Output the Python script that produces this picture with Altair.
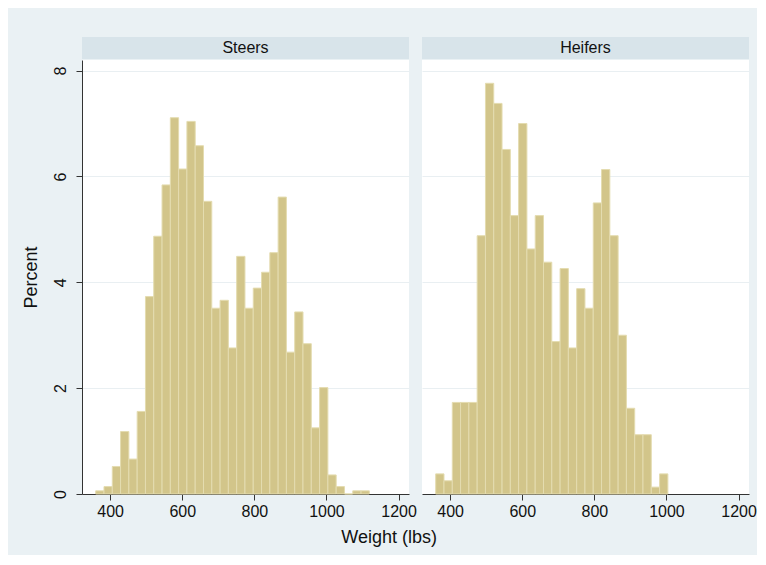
import altair as alt
import pandas as pd

# Histogram bins (lbs): start and width
bin_start = 360
bin_width = 23

steers_pct = [0.06, 0.14, 0.52, 1.18, 0.66, 1.56, 3.73, 4.87, 5.84, 7.11, 6.14,
              7.04, 6.58, 5.53, 3.51, 3.66, 2.76, 4.49, 3.51, 3.89, 4.19, 4.56,
              5.61, 2.68, 3.44, 2.84, 1.25, 2.01, 0.36, 0.14, 0.0, 0.06, 0.06]
heifers_pct = [0.38, 0.25, 1.73, 1.73, 1.73, 4.88, 7.76, 7.38, 6.51, 5.26, 7.00,
               4.63, 5.26, 4.38, 2.88, 4.26, 2.76, 3.88, 3.51, 5.50, 6.13, 4.88,
               3.00, 1.62, 1.12, 1.12, 0.13, 0.38]
panels = ["Steers", "Heifers"]
x_ticks = [400, 600, 800, 1000, 1200]
y_ticks = [0, 2, 4, 6, 8]

FONT = "Liberation Sans"
BG = "#eaf1f4"
HEAD = "#d8e4ea"
GRID = "#e9eff2"
BAR = "#d2c58a"
BAR_EDGE = "#e4dcb0"
W, H = 327, 434


def frame(values):
    return pd.DataFrame({
        "lo": [bin_start + i * bin_width for i in range(len(values))],
        "hi": [bin_start + (i + 1) * bin_width for i in range(len(values))],
        "pct": values,
    })


def panel(name, values, show_y):
    xs = alt.Scale(domain=[322, 1229], nice=False, zero=False)
    ys = alt.Scale(domain=[0, 8.2], nice=False)
    xaxis = alt.Axis(values=x_ticks, format="d", title=None, grid=False, tickSize=6,
                     domainColor="#333", tickColor="#333", labelFontSize=16,
                     labelColor="#111", labelPadding=3, labelFont=FONT)
    if show_y:
        yaxis = alt.Axis(values=y_ticks, title="Percent", grid=True, gridColor=GRID,
                         tickSize=6, domainColor="#333", tickColor="#333",
                         labelAngle=270, labelAlign="center", labelBaseline="bottom",
                         labelFontSize=16, labelColor="#111", labelPadding=8,
                         labelFont=FONT, titleFont=FONT, titleFontSize=18,
                         titleFontWeight="normal", titleColor="#111", titlePadding=12)
    else:
        yaxis = alt.Axis(values=y_ticks, title=None, grid=True, gridColor=GRID,
                         labels=False, ticks=False, domain=False)
    bars = alt.Chart(frame(values)).mark_rect(
        fill=BAR, stroke=BAR_EDGE, strokeWidth=1
    ).encode(
        x=alt.X("lo:Q", scale=xs, axis=xaxis),
        x2="hi:Q",
        y=alt.Y("pct:Q", scale=ys, axis=yaxis),
        y2=alt.datum(0),
    )
    hdf = pd.DataFrame({"label": [name]})
    head = alt.Chart(hdf).mark_rect(fill=HEAD).encode(
        x=alt.value(0), x2=alt.value(W), y=alt.value(-23), y2=alt.value(-1)
    )
    txt = alt.Chart(hdf).mark_text(font=FONT, fontSize=16, color="#111",
                                   baseline="middle", align="center").encode(
        x=alt.value(W / 2), y=alt.value(-12), text="label:N"
    )
    return alt.layer(bars, head, txt).properties(width=W, height=H)


chart = alt.hconcat(
    panel(panels[0], steers_pct, True),
    panel(panels[1], heifers_pct, False),
    spacing=13,
    bounds="flush",
).properties(
    title=alt.TitleParams("Weight (lbs)", orient="bottom", anchor="middle",
                          font=FONT, fontSize=18, fontWeight="normal",
                          color="#111", offset=10),
    padding={"left": 13, "top": 29, "right": 0, "bottom": 8},
    background=BG,
).configure_view(fill="white", stroke=None)

chart.save("out.html", embed_options={"renderer": "svg", "actions": False})
